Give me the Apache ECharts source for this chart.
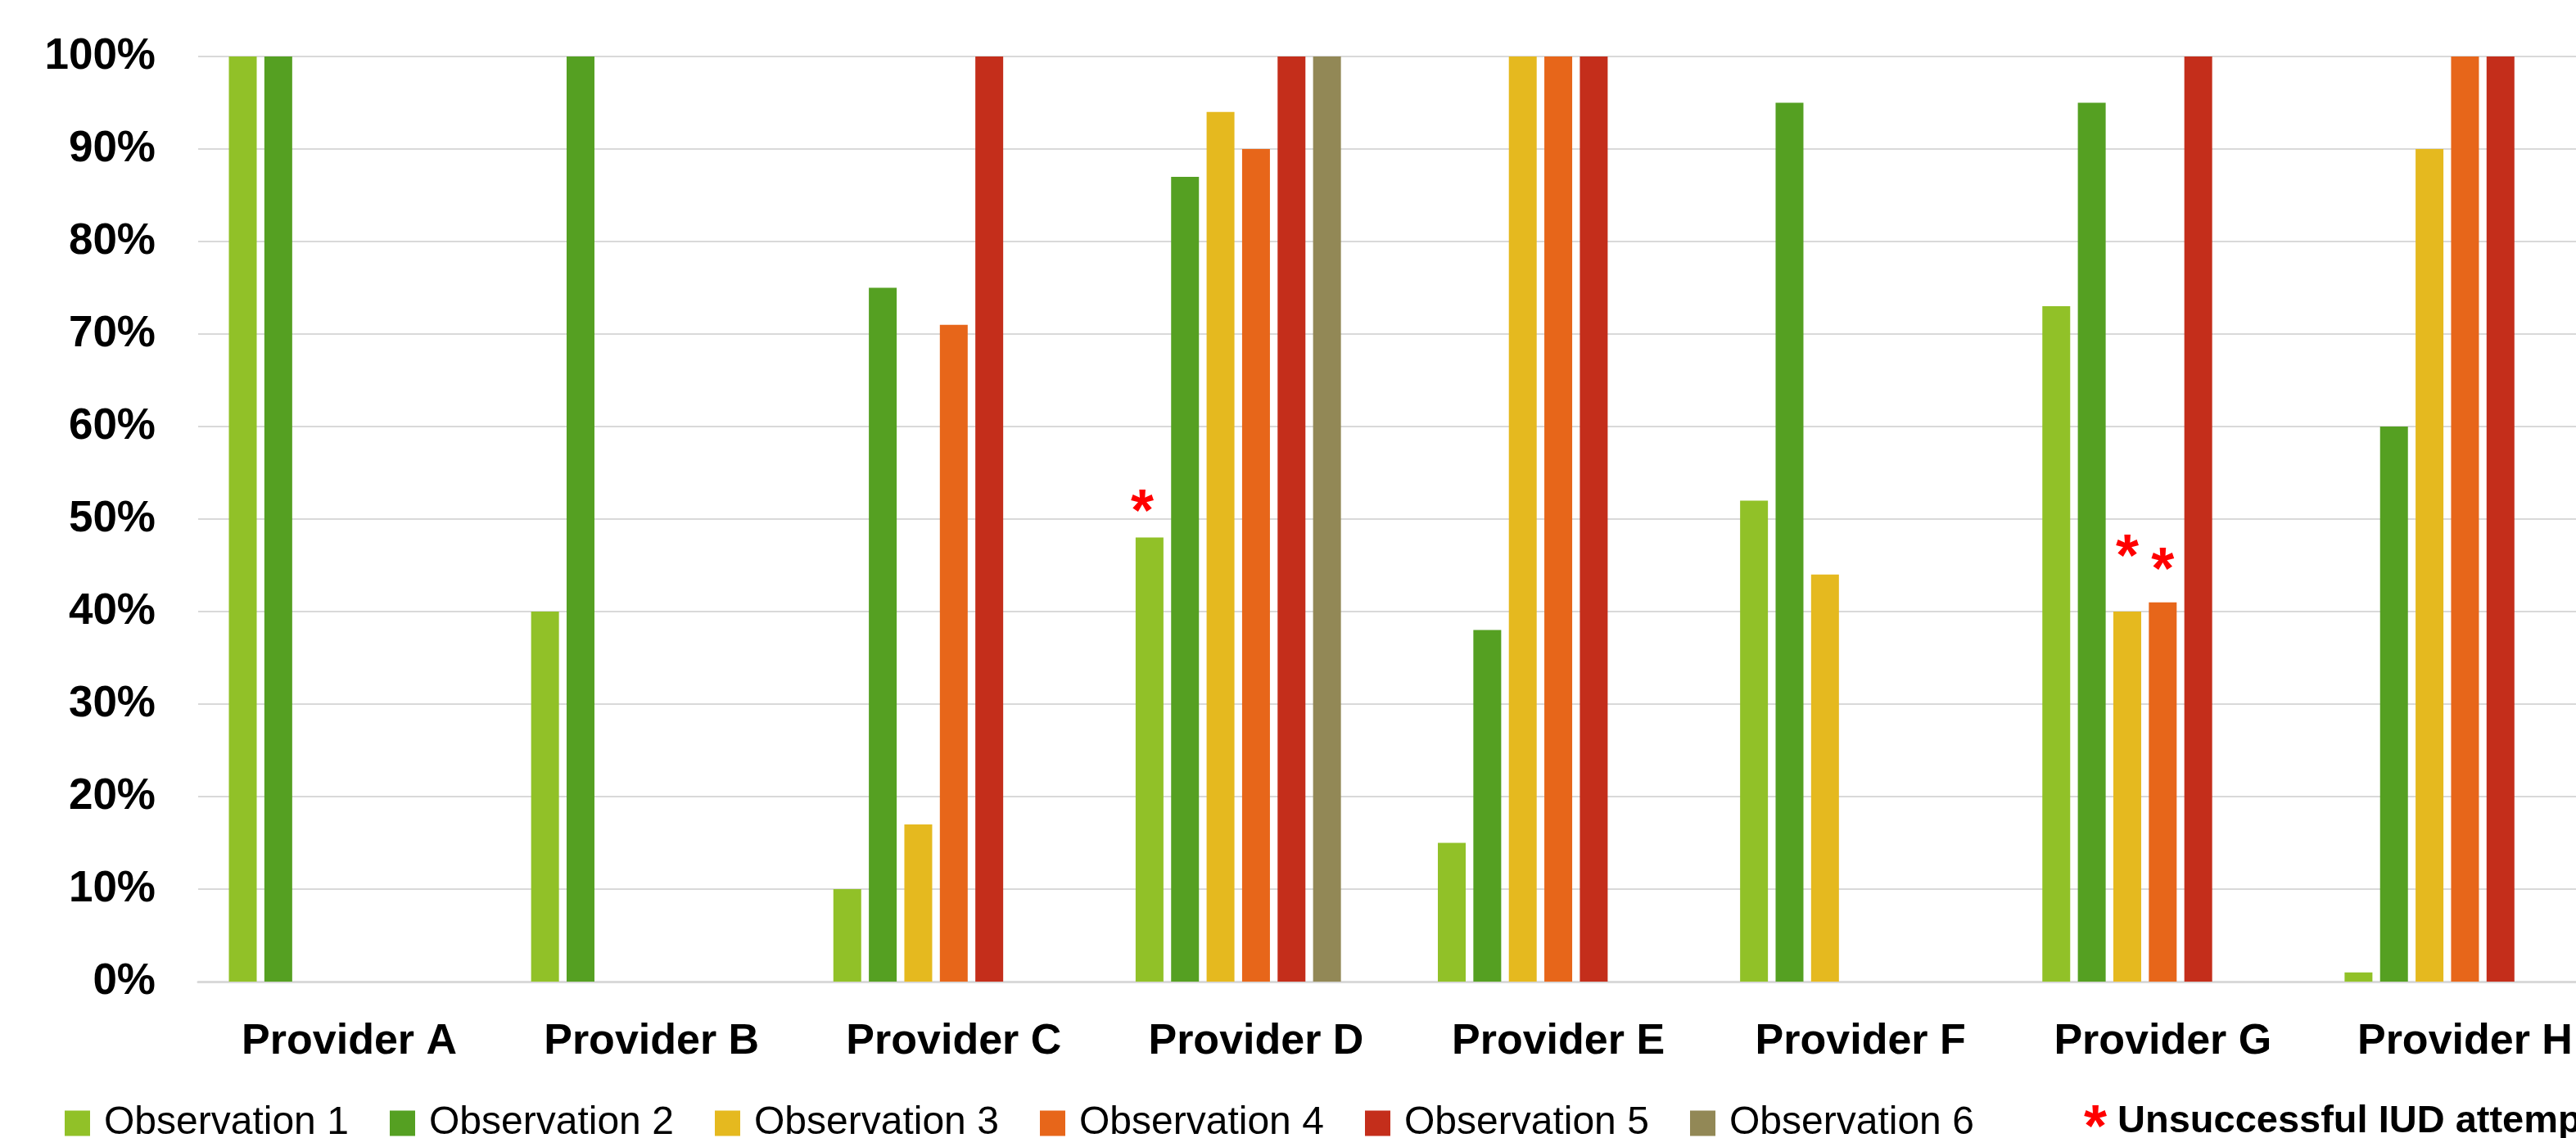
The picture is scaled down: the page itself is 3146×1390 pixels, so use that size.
<!DOCTYPE html>
<html>
<head>
<meta charset="utf-8">
<script src="https://cdn.jsdelivr.net/npm/echarts@6/dist/echarts.min.js"></script>
<style>
  html, body { margin: 0; padding: 0; background: #ffffff; }
  #chart { width: 3146px; height: 1390px; }
</style>
</head>
<body>
<div id="chart"></div>
<script>
// ---- data ----
const providers = ['Provider A', 'Provider B', 'Provider C', 'Provider D', 'Provider E', 'Provider F', 'Provider G', 'Provider H'];
const seriesNames = ['Observation 1', 'Observation 2', 'Observation 3', 'Observation 4', 'Observation 5', 'Observation 6'];
const obs1 = [100, 40, 10, 48, 15, 52, 73, 1];
const obs2 = [100, 100, 75, 87, 38, 95, 95, 60];
const obs3 = [null, null, 17, 94, 100, 44, 40, 90];
const obs4 = [null, null, 71, 90, 100, null, 41, 100];
const obs5 = [null, null, 100, 100, 100, null, 100, 100];
const obs6 = [null, null, null, 100, null, null, null, null];
const yTicks = [0, 10, 20, 30, 40, 50, 60, 70, 80, 90, 100];
// unsuccessful IUD attempts: [provider index, observation index]
const unsuccessful = [[3, 0], [6, 2], [6, 3]];
const noteText = 'Unsuccessful IUD attempt';

// ---- styles ----
const colors = ['#91C128', '#55A022', '#E5B91F', '#E7661A', '#C42E1B', '#928856'];
const FONT = '"Liberation Sans", Arial, sans-serif';
const annotationDistance = [0, 36, 9]; // lift of each asterisk above its bar
const annotationShift = [-9, 0, 0];

const allObs = [obs1, obs2, obs3, obs4, obs5, obs6];

const series = allObs.map((arr, si) => ({
  name: seriesNames[si],
  type: 'bar',
  barWidth: 34,
  barGap: '27.5%',
  itemStyle: { color: colors[si] },
  animation: false,
  data: arr.map((v, pi) => {
    const k = unsuccessful.findIndex(u => u[0] === pi && u[1] === si);
    if (k < 0) return v;
    return {
      value: v,
      label: {
        show: true,
        position: 'top',
        distance: annotationDistance[k],
        formatter: '*',
        color: '#FF0000',
        fontFamily: FONT,
        fontWeight: 'bold',
        fontSize: 72,
        lineHeight: 72,
        offset: [annotationShift[k], 8]
      }
    };
  })
}));
// empty 7th slot (as in the source workbook) keeps the bar group layout
series.push({
  name: 'spacer',
  type: 'bar',
  barWidth: 34,
  barGap: '27.5%',
  data: providers.map(() => null),
  animation: false
});

const chart = echarts.init(document.getElementById('chart'), null, { renderer: 'canvas' });
chart.setOption({
  animation: false,
  backgroundColor: '#ffffff',
  grid: { left: 242, width: 2953, top: 69, height: 1130, containLabel: false, outerBoundsMode: 'none' },
  xAxis: {
    type: 'category',
    data: providers,
    axisTick: { show: false },
    axisLine: { lineStyle: { color: '#D9D9D9', width: 3 } },
    axisLabel: {
      interval: 0,
      margin: 48,
      color: '#000000',
      fontFamily: FONT,
      fontWeight: 'bold',
      fontSize: 52,
      lineHeight: 52
    }
  },
  yAxis: {
    type: 'value',
    min: yTicks[0],
    max: yTicks[yTicks.length - 1],
    interval: yTicks[1] - yTicks[0],
    axisLine: { show: false },
    axisTick: { show: false },
    splitLine: { lineStyle: { color: '#D9D9D9', width: 2 } },
    axisLabel: {
      margin: 52,
      formatter: '{value}%',
      color: '#000000',
      fontFamily: FONT,
      fontWeight: 'bold',
      fontSize: 53
    }
  },
  legend: seriesNames.map((n, i) => ({
    data: [n],
    left: 79 + i * 397,
    top: 1348,
    padding: 0,
    itemWidth: 31,
    itemHeight: 31,
    icon: 'rect',
    selectedMode: false,
    textStyle: {
      color: '#000000',
      fontFamily: FONT,
      fontSize: 48,
      lineHeight: 48,
      padding: [0, 0, 0, 12]
    }
  })),
  graphic: [{
    type: 'text',
    left: 2545,
    top: 1344,
    style: { text: '*', fill: '#FF0000', fontFamily: FONT, fontWeight: 'bold', fontSize: 72, lineHeight: 72 }
  }, {
    type: 'text',
    left: 2586,
    top: 1340,
    style: { text: noteText, fill: '#000000', fontFamily: FONT, fontWeight: 'bold', fontSize: 47, lineHeight: 60 }
  }],
  series: series
});
</script>
</body>
</html>
